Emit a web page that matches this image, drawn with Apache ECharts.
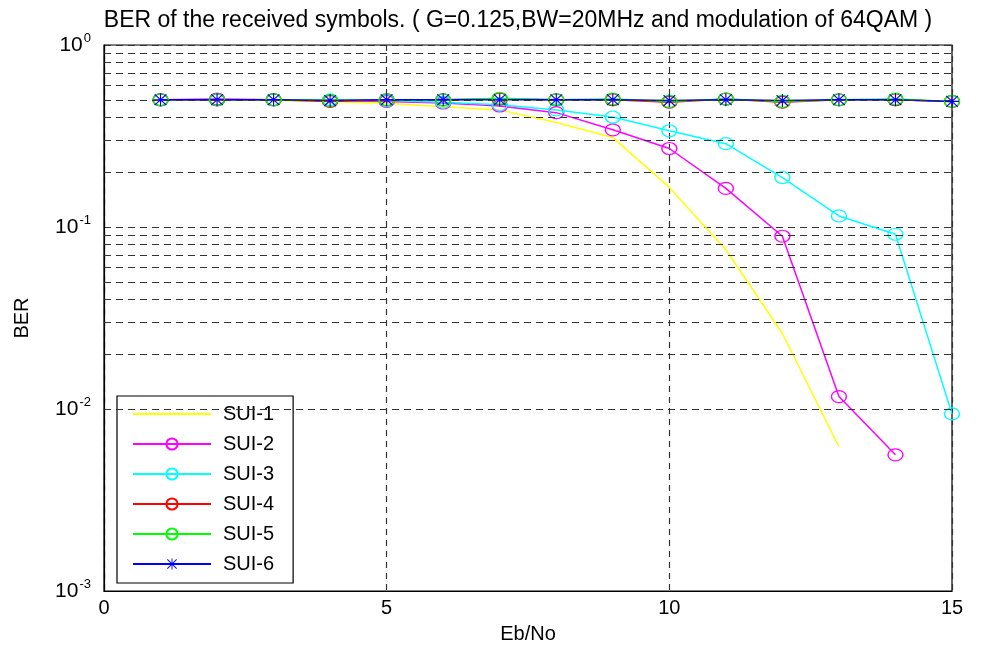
<!DOCTYPE html>
<html>
<head>
<meta charset="utf-8">
<script src="https://cdn.jsdelivr.net/npm/echarts@6/dist/echarts.min.js"></script>
<style>
  html, body { margin: 0; padding: 0; background: #fff; }
  #container { width: 986px; height: 651px; }
</style>
</head>
<body>
<div id="container"></div>
<script>
// Eb/No points
var ebno = [1, 2, 3, 4, 5, 6, 7, 8, 9, 10, 11, 12, 13, 14, 15];

var sui1 = [0.5, 0.5, 0.495, 0.49, 0.478, 0.458, 0.44, 0.375, 0.31, 0.165, 0.075, 0.026, 0.0062];
var sui2 = [0.5, 0.505, 0.5, 0.495, 0.49, 0.48, 0.462, 0.425, 0.342, 0.27, 0.163, 0.089, 0.0117, 0.0056];
var sui3 = [0.5, 0.5, 0.5, 0.5, 0.495, 0.485, 0.47, 0.44, 0.402, 0.338, 0.287, 0.187, 0.115, 0.0912, 0.0094];
var sui4 = [0.5, 0.5, 0.5, 0.49, 0.5, 0.5, 0.505, 0.5, 0.5, 0.485, 0.505, 0.485, 0.5, 0.5, 0.49];
var sui5 = [0.5, 0.5, 0.5, 0.495, 0.5, 0.5, 0.51, 0.5, 0.505, 0.49, 0.505, 0.49, 0.5, 0.505, 0.49];
var sui6 = [0.5, 0.5, 0.5, 0.495, 0.5, 0.5, 0.5, 0.5, 0.5, 0.495, 0.5, 0.495, 0.5, 0.5, 0.49];

var names = ['SUI-1', 'SUI-2', 'SUI-3', 'SUI-4', 'SUI-5', 'SUI-6'];

// minor log grid lines (2..9 in each decade)
var minorGrid = [0.002, 0.003, 0.004, 0.005, 0.006, 0.007, 0.008, 0.009,
                 0.02, 0.03, 0.04, 0.05, 0.06, 0.07, 0.08, 0.09,
                 0.2, 0.3, 0.4, 0.5, 0.6, 0.7, 0.8, 0.9];

var FONT = '"Liberation Sans", Arial, sans-serif';

var star = 'path://M11 0H13V24H11Z M0 11H24V13H0Z M2.7 1.3L22.7 21.3L21.3 22.7L1.3 2.7Z M21.3 1.3L22.7 2.7L2.7 22.7L1.3 21.3Z';

function pairs(vals) {
    return vals.map(function (v, i) { return [ebno[i], v]; });
}

function lineSeries(name, vals, color, symbol) {
    var s = {
        name: name,
        type: 'line',
        data: pairs(vals),
        color: color,
        lineStyle: { color: color, width: 1.5 },
        symbol: symbol,
        symbolSize: [15, 12],
        showSymbol: symbol !== 'none',
        animation: false,
        z: 3
    };
    if (symbol === 'circle') {
        s.itemStyle = { color: 'rgba(0,0,0,0)', borderColor: color, borderWidth: 1.3 };
    } else {
        s.itemStyle = { color: color };
        s.symbolSize = [14, 13];
    }
    return s;
}

var legendData = names.map(function (n) {
    if (n === 'SUI-1') {
        return { name: n, itemStyle: { color: 'rgba(0,0,0,0)', borderWidth: 0, opacity: 0 } };
    }
    return { name: n };
});

var dom = document.getElementById("container");
var myChart = echarts.init(dom);

var option = {
    backgroundColor: '#fff',
    animation: false,
    title: {
        text: 'BER of the received symbols. ( G=0.125,BW=20MHz and modulation of 64QAM )',
        left: 513,
        textAlign: 'center',
        top: 4,
        textStyle: { fontFamily: FONT, fontSize: 23, fontWeight: 'normal', color: '#000' }
    },
    grid: {
        left: 104, right: 34, top: 45, bottom: 60,
        show: true, borderColor: '#000', borderWidth: 1.2, backgroundColor: '#fff'
    },
    legend: {
        data: legendData,
        orient: 'vertical',
        left: 117,
        top: 396,
        padding: [8, 19, 9, 15],
        itemWidth: 78,
        itemHeight: 14,
        itemGap: 10,
        backgroundColor: '#fff',
        borderColor: '#000',
        borderWidth: 1.2,
        borderRadius: 0,
        textStyle: { fontFamily: FONT, fontSize: 20, color: '#000', padding: [0, 0, 0, 7] }
    },
    xAxis: {
        type: 'value',
        min: 0,
        max: 15,
        interval: 5,
        name: 'Eb/No',
        nameLocation: 'middle',
        nameGap: 33,
        nameTextStyle: { fontFamily: FONT, fontSize: 20, color: '#000' },
        axisLine: { lineStyle: { color: '#000', width: 1.2 } },
        axisTick: { show: false },
        axisLabel: { fontFamily: FONT, fontSize: 20, color: '#000', margin: 7 },
        splitLine: { show: true, lineStyle: { color: '#333', type: [6, 5], width: 1.2 } }
    },
    yAxis: {
        type: 'log',
        logBase: 10,
        min: 0.001,
        max: 1,
        name: 'BER',
        nameLocation: 'middle',
        nameGap: 72,
        nameTextStyle: { fontFamily: FONT, fontSize: 20, color: '#000' },
        axisLine: { lineStyle: { color: '#000', width: 1.2 } },
        axisTick: { show: false },
        axisLabel: {
            margin: 13,
            formatter: function (v) {
                var e = Math.round(Math.log10(v));
                return '{b|10}{s|' + e + '}';
            },
            rich: {
                b: { fontFamily: FONT, fontSize: 21, color: '#000' },
                s: { fontFamily: FONT, fontSize: 13, color: '#000', padding: [0, 0, 14, 1] }
            }
        },
        splitLine: { show: true, lineStyle: { color: '#333', type: [7, 5], width: 1.2 } }
    },
    series: [
        {
            name: 'grid',
            type: 'line',
            data: [],
            silent: true,
            z: 1,
            markLine: {
                silent: true,
                symbol: 'none',
                label: { show: false },
                animation: false,
                lineStyle: { color: '#333', type: [7, 5], width: 1.2 },
                data: minorGrid.map(function (v) { return { yAxis: v }; })
            }
        },
        lineSeries('SUI-1', sui1, '#ffff00', 'none'),
        lineSeries('SUI-2', sui2, '#ff00ff', 'circle'),
        lineSeries('SUI-3', sui3, '#00ffff', 'circle'),
        lineSeries('SUI-4', sui4, '#ff0000', 'circle'),
        lineSeries('SUI-5', sui5, '#00ff00', 'circle'),
        lineSeries('SUI-6', sui6, '#0000ff', star)
    ]
};

myChart.setOption(option);
</script>
</body>
</html>
